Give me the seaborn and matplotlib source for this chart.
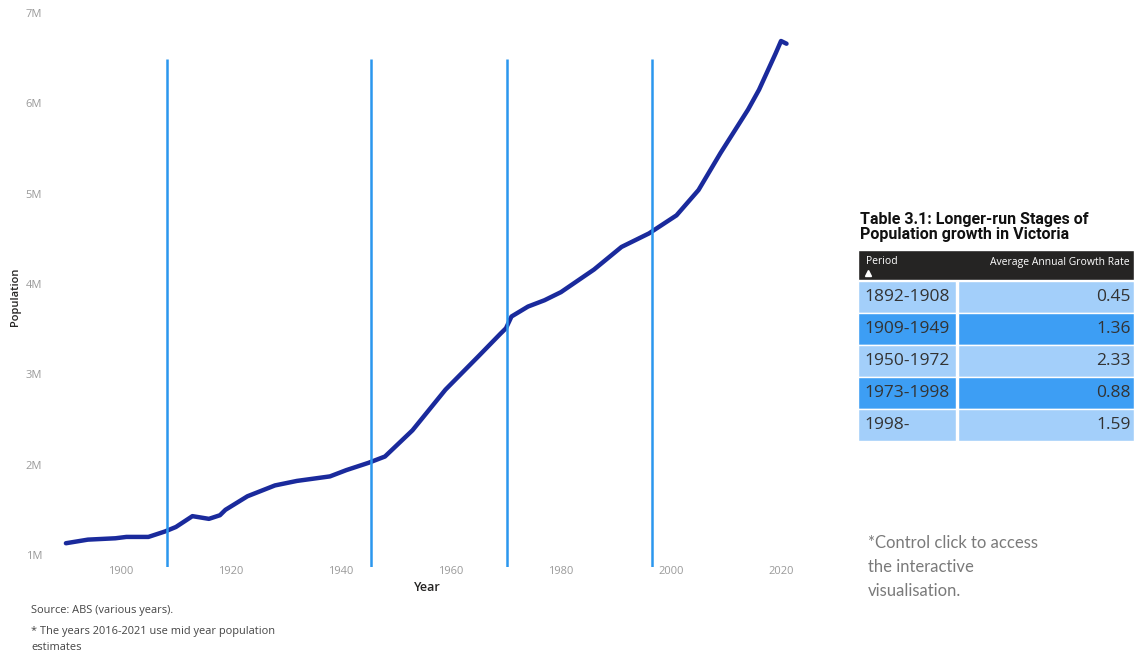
"""
Victoria population 1890-2021 with stage boundaries and growth-rate table.
"""

import matplotlib.pyplot as plt
import numpy as np
import pandas as pd
import seaborn as sns
from matplotlib.ticker import FuncFormatter


# Population curve (millions)
YEARS = [1890, 1894, 1899, 1901, 1905, 1908, 1910, 1913, 1916, 1918, 1919,
         1923, 1928, 1932, 1938, 1941, 1945, 1948, 1953, 1959, 1965, 1969,
         1970, 1971, 1974, 1977, 1980, 1986, 1991, 1993, 1996, 2001, 2005,
         2009, 2014, 2016, 2019, 2020, 2021]
POP_M = [1.13, 1.17, 1.185, 1.20, 1.20, 1.26, 1.31, 1.43, 1.40, 1.44, 1.50,
         1.65, 1.77, 1.82, 1.87, 1.94, 2.02, 2.09, 2.38, 2.83, 3.20, 3.45,
         3.51, 3.64, 3.75, 3.82, 3.91, 4.16, 4.41, 4.47, 4.56, 4.76, 5.04,
         5.45, 5.93, 6.15, 6.55, 6.69, 6.66]

# Stage boundaries drawn as vertical lines
STAGE_LINES = [1908.4, 1945.5, 1970.2, 1996.5]

# Table 3.1
PERIODS = ["1892-1908", "1909-1949", "1950-1972", "1973-1998", "1998-"]
GROWTH = [0.45, 1.36, 2.33, 0.88, 1.59]

X_TICKS = [1900, 1920, 1940, 1960, 1980, 2000, 2020]
Y_TICKS = [1e6, 2e6, 3e6, 4e6, 5e6, 6e6, 7e6]

LINE_COLOR = "#1a2a9c"
STAGE_COLOR = "#2b97ee"
LIGHT_ROW = "#a3cffa"
DARK_ROW = "#3d9ef4"
TICK_GRAY = "#9a9a9a"

W, H = 1134, 654


def px_axes(fig, left, top, right, bottom):
    return fig.add_axes([left / W, 1 - bottom / H, (right - left) / W, (bottom - top) / H])


def main() -> None:
    sns.set_theme(style="white")
    plt.rcParams["font.family"] = ["Open Sans", "DejaVu Sans"]

    df = pd.DataFrame({"Year": YEARS, "Population": np.array(POP_M) * 1e6})

    fig = plt.figure(figsize=(W / 100, H / 100), dpi=100)
    ax = px_axes(fig, 56, 13, 800, 567)

    sns.lineplot(data=df, x="Year", y="Population", ax=ax, color=LINE_COLOR,
                 linewidth=3.2, solid_capstyle="round", solid_joinstyle="round", zorder=3)

    ax.set_xlim(1888.2, 2023.45)
    ax.set_ylim(0.867e6, 7e6)
    ax.vlines(STAGE_LINES, 0.867e6, 6.49e6, color=STAGE_COLOR, linewidth=1.8, zorder=4)

    ax.set_xticks(X_TICKS)
    ax.set_yticks(Y_TICKS)
    ax.yaxis.set_major_formatter(FuncFormatter(lambda v, _: f"{v / 1e6:.0f}M"))
    ax.tick_params(axis="both", length=0, labelsize=8, colors=TICK_GRAY)
    ax.tick_params(axis="x", pad=-1)
    ax.tick_params(axis="y", pad=10)
    for spine in ax.spines.values():
        spine.set_visible(False)

    ax.set_xlabel("Year", fontsize=9, color="#252423", fontweight="semibold")
    ax.set_ylabel("Population", fontsize=8, color="#252423", fontweight="semibold")
    ax.xaxis.set_label_coords(0.499, -0.025)
    ax.yaxis.set_label_coords(-0.047, 0.487)

    # Table 3.1 drawn on its own axes, in pixel units
    tax = px_axes(fig, 858, 250, 1134, 441)
    tax.set_xlim(0, 276)
    tax.set_ylim(191, 0)
    tax.axis("off")
    tax.barh(15, 276, height=30, left=0, color="#252423")
    tax.text(8, 12, "Period", color="white", fontsize=7.5, va="center")
    tax.text(272, 12, "Average Annual Growth Rate", color="white", fontsize=7.5,
             va="center", ha="right")
    tax.plot([10], [23], marker="^", markersize=4, color="white")
    for i, (period, rate) in enumerate(zip(PERIODS, GROWTH)):
        yc = 31 + 32 * i + 16
        color = LIGHT_ROW if i % 2 == 0 else DARK_ROW
        tax.barh(yc, 98, height=32, left=0, color=color)
        tax.barh(yc, 176, height=32, left=100, color=color)
        tax.text(6, yc, period, fontsize=12.5, color="#333333", va="center")
        tax.text(273, yc, f"{rate:.2f}", fontsize=12.5, color="#333333",
                 va="center", ha="right")

    fig.text(860 / W, 1 - 227 / H, "Table 3.1: Longer-run Stages of\nPopulation growth in Victoria",
             fontsize=11.5, fontweight="bold", color="#111111", va="center",
             family=["Roboto", "DejaVu Sans"], linespacing=1.0)

    fig.text(868 / W, 1 - 567 / H, "*Control click to access\nthe interactive\nvisualisation.",
             fontsize=12, color="#7a7a7a", va="center", family=["Lato", "DejaVu Sans"],
             linespacing=1.6)

    fig.text(31 / W, 1 - 610 / H, "Source: ABS (various years).", fontsize=7.9,
             color="#444444", va="center")
    fig.text(31 / W, 1 - 639.5 / H, "* The years 2016-2021 use mid year population\nestimates",
             fontsize=7.9, color="#444444", va="center", linespacing=1.55)

    fig.savefig("out.png", dpi=100)
    plt.close(fig)


if __name__ == "__main__":
    main()
